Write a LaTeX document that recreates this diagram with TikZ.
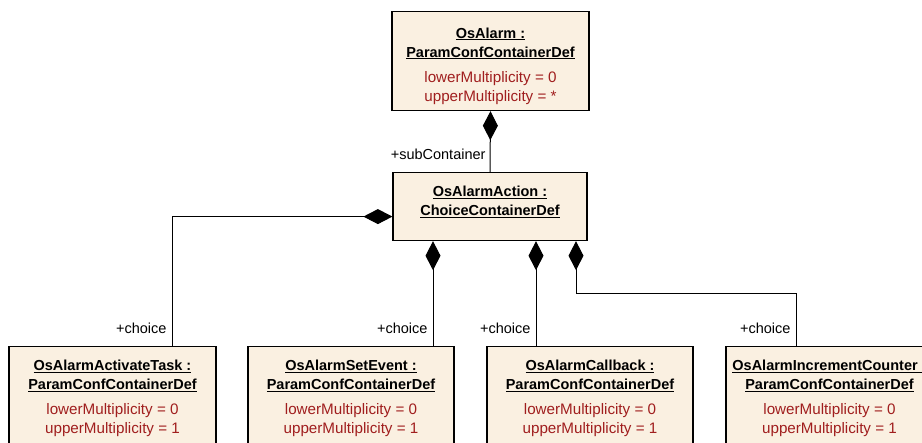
\documentclass[tikz,border=0pt]{standalone}
\usepackage{fontspec}
\setmainfont{Liberation Sans}
\usetikzlibrary{arrows.meta}
\definecolor{boxfill}{RGB}{250,240,225}
\definecolor{attrred}{RGB}{160,30,30}
\newcommand{\multline}[1]{{\fontsize{15.2}{18}\selectfont\textcolor{attrred}{#1}}}

\begin{document}
\begin{tikzpicture}[x=1pt,y=-1pt,
    umlbox/.style={draw=black, line width=1.2pt, fill=boxfill, anchor=north, align=center,
        inner sep=0pt, font=\fontsize{14.5}{19}\selectfont},
    comp/.style={line width=1pt, -{Diamond[length=29pt,width=15pt]}},
    role/.style={anchor=base east, inner sep=0pt, font=\fontsize{14.5}{17}\selectfont}]

    \clip (0,0) rectangle (922,443);

    %top container
    \node[umlbox, minimum width=197pt, minimum height=99pt] (alarm) at (490.5,11)
        {\rule{0pt}{20pt}\underline{\textbf{OsAlarm :}}\\ \underline{\textbf{ParamConfContainerDef}}\\[6pt]
         \multline{lowerMultiplicity = 0}\\ \multline{upperMultiplicity = *}};

    %choice container
    \node[umlbox, minimum width=194pt, minimum height=68pt] (action) at (490,172)
        {\underline{\textbf{OsAlarmAction :}}\\ \underline{\textbf{ChoiceContainerDef}}\rule[-11pt]{0pt}{11pt}};

    %choices
    \node[umlbox, minimum width=207pt, minimum height=104pt] (acttask) at (112.5,346)
        {\underline{\textbf{OsAlarmActivateTask :}}\\ \underline{\textbf{ParamConfContainerDef}}\\[6pt]
         \multline{lowerMultiplicity = 0}\\ \multline{upperMultiplicity = 1}};
    \node[umlbox, minimum width=206pt, minimum height=104pt] (setevent) at (351,346)
        {\underline{\textbf{OsAlarmSetEvent :}}\\ \underline{\textbf{ParamConfContainerDef}}\\[6pt]
         \multline{lowerMultiplicity = 0}\\ \multline{upperMultiplicity = 1}};
    \node[umlbox, minimum width=206pt, minimum height=104pt] (callback) at (590,346)
        {\underline{\textbf{OsAlarmCallback :}}\\ \underline{\textbf{ParamConfContainerDef}}\\[6pt]
         \multline{lowerMultiplicity = 0}\\ \multline{upperMultiplicity = 1}};
    \node[umlbox, minimum width=207pt, minimum height=104pt] (inccounter) at (829.5,346)
        {\underline{\textbf{OsAlarmIncrementCounter :}}\\ \underline{\textbf{ParamConfContainerDef}}\\[6pt]
         \multline{lowerMultiplicity = 0}\\ \multline{upperMultiplicity = 1}};

    %compositions
    \draw[comp] (action.north) node[role, xshift=-4pt, yshift=12pt] {+subContainer} -- (alarm.south);
    \draw[comp] ([xshift=59.5pt]acttask.north) node[role, xshift=-5pt, yshift=12pt] {+choice}
        |- ([yshift=-10pt]action.west);
    \draw[comp] ([xshift=82pt]setevent.north) node[role, xshift=-5pt, yshift=12pt] {+choice}
        -- ([xshift=-57pt]action.south);
    \draw[comp] ([xshift=-54pt]callback.north) node[role, xshift=-5pt, yshift=12pt] {+choice}
        -- ([xshift=46pt]action.south);
    \draw[comp] ([xshift=-33.5pt]inccounter.north) node[role, xshift=-5pt, yshift=12pt] {+choice}
        -- ++(0,-52) -| ([xshift=86pt]action.south);

\end{tikzpicture}
\end{document}
